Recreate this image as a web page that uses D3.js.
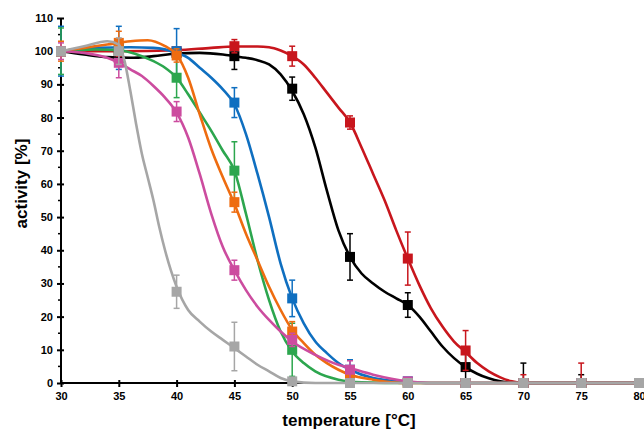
<!DOCTYPE html>
<html>
<head>
<meta charset="utf-8">
<script src="https://cdn.jsdelivr.net/npm/d3@7"></script>
<style>
  body { margin: 0; background: #fff; }
  svg { display: block; font-family: 'Liberation Sans', Arial, sans-serif; }
</style>
</head>
<body>
<div id="chart"></div>
<script>
// measured points
const temps = [30, 35, 40, 45, 50, 55, 60, 65, 70, 75, 80];
const blackVals = [100, 98, 99.5, 98.5, 88.7, 38, 23.5, 4.8, 0, 0, 0];
const redVals = [100, 100, 100, 101.5, 98.5, 78.5, 37.5, 9.8, 0, 0, 0];
const blueVals = [100, 101, 100, 84.5, 25.5, 4, 0.5, 0, 0, 0, 0];
const orangeVals = [100, 102.5, 98.7, 54.5, 15.5, 2, 0, 0, 0, 0, 0];
const greenVals = [100, 100.5, 92, 64, 10, 0.5, 0, 0, 0, 0, 0];
const magentaVals = [100, 96.5, 81.8, 34, 13, 4, 0.5, 0, 0, 0, 0];
const grayVals = [100, 100, 27.5, 11, 0.5, 0, 0, 0, 0, 0, 0];

// error bars (+/-)
const blackErr = [1, 1.5, 1.5, 4, 3.5, 7, 3.7, 6, 6, 2.5, 0];
const redErr = [1, 1.5, 1, 2, 3, 2, 8, 6, 2.5, 6, 0];
const blueErr = [7.5, 6.5, 6.8, 4.5, 5.5, 3, 1, 0, 0, 0, 0];
const orangeErr = [3, 3.5, 2, 3, 3, 1.5, 1.5, 0, 0, 0, 0];
const greenErr = [7, 1.5, 6, 8.7, 8, 1, 0.5, 0, 0, 0, 0];
const magentaErr = [2.5, 4.5, 3, 3, 2, 2.7, 1, 0, 0, 0, 0];
const grayErr = [0.5, 4, 5, 7.3, 0.5, 0, 0, 0, 0, 0, 0];

// fitted curves
const blackFitT = [30, 32, 34, 36, 38, 40, 42, 44, 45, 46, 47, 48, 49, 50, 51, 52, 53, 54, 55, 56, 57, 58, 59, 60, 61, 62, 63, 64, 65, 66, 67, 68, 69, 70, 80];
const blackFit = [100, 99, 98.2, 98, 98.5, 99.3, 99.5, 99, 98.5, 98, 97.3, 96, 93, 88, 81, 71, 58, 46, 38, 33, 30, 27.5, 25.5, 23.5, 20, 15.5, 11, 7.5, 4.8, 2.8, 1.4, 0.5, 0.1, 0, 0];
const redFitT = [30, 35, 40, 43, 45, 47, 48, 49, 50, 51, 52, 53, 54, 55, 56, 57, 58, 59, 60, 61, 62, 63, 64, 65, 66, 67, 68, 69, 70, 80];
const redFit = [100, 100, 100.3, 101, 101.4, 101.4, 101.2, 100.2, 98.5, 96, 92, 87.5, 83, 78.5, 71, 63, 55, 46, 37.5, 29.5, 22.5, 17, 12.5, 9.3, 6, 3.5, 1.7, 0.5, 0, 0];
const blueFitT = [30, 33, 36, 38, 40, 41, 42, 43, 44, 45, 46, 47, 48, 49, 50, 51, 52, 53, 54, 55, 57, 60, 62, 80];
const blueFit = [100, 101, 101.2, 101, 99.5, 98, 95, 92, 88.5, 84, 75, 63, 50, 36, 25.5, 18, 12.5, 9, 6, 4, 1.5, 0.3, 0, 0];
const orangeFitT = [30, 32, 34, 36, 37.5, 39, 40, 41, 42, 43, 44, 45, 46, 47, 48, 49, 50, 51, 52, 53, 54, 55, 57, 60, 80];
const orangeFit = [100, 101, 102, 103, 103.3, 101.5, 99, 92, 81, 70.5, 62, 54, 45, 37, 29, 22, 16, 12, 8.5, 6, 4, 2.5, 1, 0, 0];
const greenFitT = [30, 33, 35, 37, 38, 39, 40, 41, 42, 43, 44, 45, 46, 47, 48, 49, 50, 51, 52, 54, 56, 60, 80];
const greenFit = [100, 100.5, 100.3, 98.5, 97, 95, 92, 87, 81.5, 76, 70, 64, 51, 37, 25, 15.5, 9.5, 6, 3.5, 1, 0.2, 0, 0];
const magentaFitT = [30, 32, 34, 35, 36, 37, 38, 39, 40, 41, 42, 43, 44, 45, 46, 47, 48, 49, 50, 52, 54, 55, 57, 60, 62, 80];
const magentaFit = [100, 99.5, 98, 96.5, 94.5, 92.5, 89.5, 86, 81.5, 74, 63, 51, 41, 34, 28, 23, 19, 15.5, 12.5, 8.5, 5.5, 4.5, 2.5, 0.5, 0, 0];
const grayFitT = [30, 32, 34, 35, 35.5, 36, 36.5, 37, 37.5, 38, 38.5, 39, 39.5, 40, 41, 42, 43, 44, 45, 46, 47, 48, 49, 50, 52, 80];
const grayFit = [100, 101.5, 103, 102, 97, 88, 78, 69, 62, 55, 47, 40, 34, 29, 22, 18.5, 15.5, 13, 10.5, 8, 5.5, 3.5, 1.5, 0.5, 0, 0];

const yTicks = [0, 10, 20, 30, 40, 50, 60, 70, 80, 90, 100, 110];
const xTicks = [30, 35, 40, 45, 50, 55, 60, 65, 70, 75, 80];

const series = [
  { color: '#000000', vals: blackVals, err: blackErr, fitT: blackFitT, fit: blackFit },
  { color: '#c8161d', vals: redVals, err: redErr, fitT: redFitT, fit: redFit },
  { color: '#0f6fc0', vals: blueVals, err: blueErr, fitT: blueFitT, fit: blueFit },
  { color: '#2ca64e', vals: greenVals, err: greenErr, fitT: greenFitT, fit: greenFit },
  { color: '#ee6c10', vals: orangeVals, err: orangeErr, fitT: orangeFitT, fit: orangeFit },
  { color: '#cc4c9f', vals: magentaVals, err: magentaErr, fitT: magentaFitT, fit: magentaFit },
  { color: '#a6a6a6', vals: grayVals, err: grayErr, fitT: grayFitT, fit: grayFit },
];

const svgWidth = 644, svgHeight = 429;
const svg = d3.select('#chart').append('svg')
  .attr('width', svgWidth)
  .attr('height', svgHeight);

const x = d3.scaleLinear().domain([30, 80]).range([61, 639]);
const y = d3.scaleLinear().domain([0, 110]).range([383, 18]);

// axes
const yAxis = svg.append('g').attr('transform', `translate(${x(30)},0)`);
yAxis.call(d3.axisLeft(y).tickValues(yTicks).tickSize(4).tickPadding(4));
yAxis.select('.domain').attr('stroke-width', 2).attr('d', `M0,${y(110)}V${y(0)}`);
yAxis.selectAll('.tick line').attr('stroke-width', 2).attr('x1', 3);
yAxis.selectAll('.tick text').style('font-size', '11px').style('font-weight', 'bold');
// minor ticks
yAxis.selectAll('.minor').data(d3.range(5, 110, 10)).enter()
  .append('line')
  .attr('x1', -3).attr('x2', 0)
  .attr('y1', (d) => y(d)).attr('y2', (d) => y(d))
  .attr('stroke', '#000').attr('stroke-width', 1.5);

const xAxis = svg.append('g').attr('transform', `translate(0,${y(0)})`);
xAxis.call(d3.axisBottom(x).tickValues(xTicks).tickSize(4).tickPadding(5));
xAxis.select('.domain').attr('stroke-width', 2).attr('d', `M${x(30)},0H${x(80)}`);
xAxis.selectAll('.tick line').attr('stroke-width', 2).attr('y1', -3);
xAxis.selectAll('.tick text').style('font-size', '11px').style('font-weight', 'bold');

// axis titles
svg.append('text')
  .attr('transform', `translate(27,${(y(0) + y(110)) / 2 - 17}) rotate(-90)`)
  .attr('text-anchor', 'middle')
  .style('font-size', '17px').style('font-weight', 'bold')
  .text('activity [%]');
svg.append('text')
  .attr('x', 349).attr('y', 426)
  .attr('text-anchor', 'middle')
  .style('font-size', '17px').style('font-weight', 'bold')
  .text('temperature [°C]');

const plot = svg.append('g');

const line = d3.line()
  .x((d) => x(d[0]))
  .y((d) => y(d[1]))
  .curve(d3.curveMonotoneX);

series.forEach((s) => {
  const g = plot.append('g');
  const pts = temps.map((t, i) => ({ t, v: s.vals[i], e: s.err[i] }));

  g.append('path')
    .datum(s.fitT.map((t, i) => [t, s.fit[i]]))
    .attr('fill', 'none')
    .attr('stroke', s.color)
    .attr('stroke-width', 2.6)
    .attr('d', line);

  // error bars, lower half stops at the axis
  const eb = g.selectAll('.err').data(pts.filter((d) => d.e > 0)).enter().append('g');
  eb.append('line')
    .attr('x1', (d) => x(d.t)).attr('x2', (d) => x(d.t))
    .attr('y1', (d) => y(d.v + d.e)).attr('y2', (d) => y(Math.max(0, d.v - d.e)))
    .attr('stroke', s.color).attr('stroke-width', 1.5);
  eb.append('line')
    .attr('x1', (d) => x(d.t) - 3).attr('x2', (d) => x(d.t) + 3)
    .attr('y1', (d) => y(d.v + d.e)).attr('y2', (d) => y(d.v + d.e))
    .attr('stroke', s.color).attr('stroke-width', 1.5);
  eb.filter((d) => d.v - d.e >= 0).append('line')
    .attr('x1', (d) => x(d.t) - 3).attr('x2', (d) => x(d.t) + 3)
    .attr('y1', (d) => y(d.v - d.e)).attr('y2', (d) => y(d.v - d.e))
    .attr('stroke', s.color).attr('stroke-width', 1.5);

  g.selectAll('.pt').data(pts).enter().append('rect')
    .attr('x', (d) => x(d.t) - 5)
    .attr('y', (d) => y(d.v) - 5)
    .attr('width', 10).attr('height', 10)
    .attr('fill', s.color);
});
</script>
</body>
</html>
